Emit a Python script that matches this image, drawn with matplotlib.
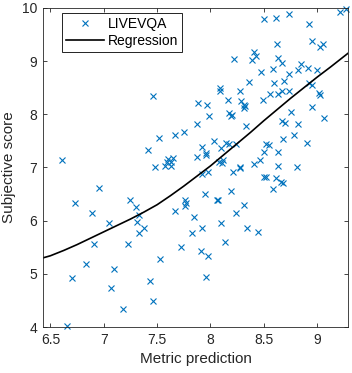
import matplotlib
matplotlib.use('Agg')
import matplotlib.pyplot as plt

plt.rcParams['font.family'] = ['Liberation Sans', 'DejaVu Sans']

# metric prediction (x) vs subjective score (y) for the LIVEVQA videos
metric = [
    6.61, 6.96, 6.73, 6.89, 7.05, 6.91, 6.83, 7.10, 6.70, 7.07, 6.66,
    7.25, 7.30, 7.33, 7.31, 7.38, 7.33, 7.23, 7.67, 7.76, 7.77, 7.76,
    7.85, 7.83, 7.72, 7.53, 7.43, 7.46, 7.18,
    7.46, 7.52, 7.67, 7.75, 7.41, 7.60, 7.65, 7.59, 7.63, 7.48, 7.57, 7.63,
    8.50, 8.41, 8.43, 8.39, 8.22, 8.47, 8.36, 8.09, 8.09, 8.28, 7.88, 7.97,
    8.16, 8.29, 8.31, 8.32, 8.31, 7.99, 8.17, 8.20, 8.19, 7.87, 8.33, 8.52,
    8.50, 8.46, 8.41, 8.03, 8.15, 8.17, 8.24, 8.10, 7.92, 7.96, 7.96, 7.87,
    8.08, 8.11, 8.12, 8.28,
    8.61, 8.74, 8.92, 9.21, 9.27, 8.62, 8.95, 9.03, 9.05, 8.63, 8.67, 8.59,
    8.85, 8.82, 8.91, 9.00, 8.74, 8.69, 8.60, 8.92, 8.95, 8.56, 8.63, 8.67,
    8.74, 9.02, 9.03, 8.95, 9.06, 8.75, 8.67, 8.70, 8.82, 8.55, 8.68, 8.78,
    8.90, 8.63, 8.63, 8.81, 8.49,
    7.92, 7.98, 8.21, 8.28, 8.50, 8.52, 8.61, 8.66, 8.68, 8.59, 7.95, 8.06,
    8.07, 8.19, 8.31, 8.24, 7.92, 8.10, 8.34, 8.45, 8.14, 7.91, 7.98, 7.96,
]
score = [
    7.14, 6.61, 6.33, 6.14, 5.95, 5.56, 5.19, 5.09, 4.92, 4.73, 4.01,
    6.38, 6.25, 6.11, 5.97, 5.87, 5.77, 5.56, 6.18, 6.39, 6.33, 6.28,
    6.07, 5.76, 5.51, 5.27, 4.87, 4.48, 4.34,
    8.35, 7.55, 7.62, 7.66, 7.33, 7.16, 7.17, 7.10, 7.10, 7.00, 7.02, 7.02,
    9.79, 9.18, 9.10, 9.02, 9.04, 8.80, 8.60, 8.49, 8.44, 8.43, 8.21, 8.18,
    8.27, 8.25, 8.18, 8.16, 8.11, 7.97, 8.02, 7.99, 7.96, 7.82, 7.78, 7.44,
    7.29, 7.14, 7.07, 7.49, 7.47, 7.44, 7.44, 7.36, 7.38, 7.28, 7.24, 7.20,
    7.11, 7.08, 7.14, 7.00,
    9.81, 9.88, 9.69, 9.93, 9.98, 9.32, 9.38, 9.27, 9.32, 9.05, 8.97, 8.85,
    8.94, 8.83, 8.88, 8.83, 8.75, 8.63, 8.58, 8.58, 8.55, 8.38, 8.38, 8.43,
    8.43, 8.41, 8.36, 8.13, 7.93, 8.04, 7.88, 7.84, 7.82, 7.42, 7.53, 7.61,
    7.47, 7.30, 7.03, 7.00, 8.27,
    6.87, 6.91, 6.91, 6.99, 6.82, 6.83, 6.80, 6.73, 6.71, 6.59, 6.50, 6.39,
    6.38, 6.56, 6.29, 6.14, 5.87, 5.95, 5.87, 5.78, 5.59, 5.43, 5.34, 4.94,
]

# fitted regression curve
fit_x = [6.43, 6.5, 6.625, 6.75, 6.875, 7.0, 7.125, 7.25, 7.375, 7.5, 7.625,
         7.75, 7.875, 8.0, 8.125, 8.25, 8.375, 8.5, 8.625, 8.75, 8.875, 9.0,
         9.125, 9.29]
fit_y = [5.30, 5.34, 5.44, 5.55, 5.67, 5.79, 5.91, 6.03, 6.16, 6.30, 6.47,
         6.65, 6.84, 7.03, 7.24, 7.45, 7.66, 7.88, 8.09, 8.30, 8.50, 8.70,
         8.89, 9.15]

fig = plt.figure(figsize=(3.52, 3.73), dpi=100)
ax = fig.add_axes([0.122, 0.1233, 0.867, 0.8553])

ax.plot(metric, score, 'x', color='#0072BD', markersize=5,
        markeredgewidth=0.8, label='LIVEVQA', clip_on=False)
ax.plot(fit_x, fit_y, '-', color='black', linewidth=1.2, label='Regression')

ax.set_xlim(6.43, 9.29)
ax.set_ylim(4, 10)
ax.set_xticks([6.5, 7, 7.5, 8, 8.5, 9])
ax.set_xticklabels(['6.5', '7', '7.5', '8', '8.5', '9'])
ax.set_yticks([4, 5, 6, 7, 8, 9, 10])

for s in ax.spines.values():
    s.set_linewidth(0.6)
    s.set_color('#262626')
ax.tick_params(direction='in', top=True, right=True, length=3, width=0.6,
               labelsize=10, colors='#262626', pad=4)

ax.set_xlabel('Metric prediction', fontsize=11, color='#262626')
ax.set_ylabel('Subjective score', fontsize=11, color='#262626')

leg = ax.legend(loc='upper left', bbox_to_anchor=(0.062, 0.984),
                borderaxespad=0, fancybox=False, framealpha=1,
                edgecolor='black', fontsize=10, handlelength=2.7,
                borderpad=0.3, labelspacing=0.2, handletextpad=0.3)
leg.get_frame().set_linewidth(0.6)

fig.savefig('out.png', dpi=100)
